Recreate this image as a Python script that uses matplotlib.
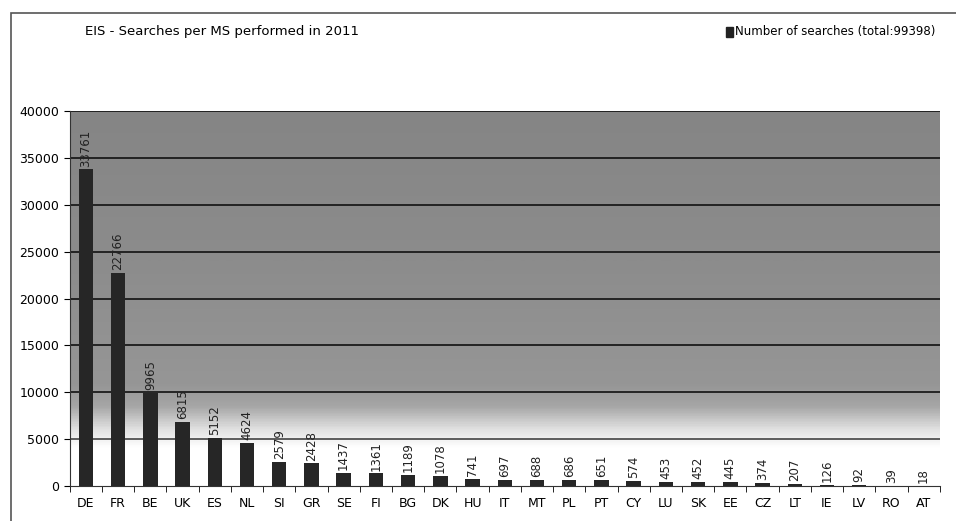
import numpy as np
import matplotlib.pyplot as plt
from matplotlib.colors import LinearSegmentedColormap
from matplotlib.patches import Rectangle

countries = ['DE', 'FR', 'BE', 'UK', 'ES', 'NL', 'SI', 'GR', 'SE', 'FI', 'BG', 'DK', 'HU',
             'IT', 'MT', 'PL', 'PT', 'CY', 'LU', 'SK', 'EE', 'CZ', 'LT', 'IE', 'LV', 'RO', 'AT']
searches = [33761, 22766, 9965, 6815, 5152, 4624, 2579, 2428, 1437, 1361, 1189, 1078, 741,
            697, 688, 686, 651, 574, 453, 452, 445, 374, 207, 126, 92, 39, 18]
yticks = [0, 5000, 10000, 15000, 20000, 25000, 30000, 35000, 40000]

plt.rcParams['font.family'] = ['DejaVu Sans']

fig = plt.figure(figsize=(9.56, 5.21), dpi=100)
ax = fig.add_axes([0.073, 0.067, 0.910, 0.720])

# outer frame of the chart
fig.patches.append(Rectangle((0.011, -0.02), 1.2, 0.995, transform=fig.transFigure,
                             fill=False, edgecolor='#555555', lw=1.2))

# background gradient (dark gray at top, white at bottom)
grad = np.linspace(0, 1, 400).reshape(-1, 1)
cmap = LinearSegmentedColormap.from_list('bg', [
    (0.0, '#ffffff'), (0.10, '#ffffff'), (0.15, '#e0e0e0'), (0.21, '#a6a6a6'),
    (0.27, '#969696'), (0.6, '#8c8c8c'), (1.0, '#858585')])
ax.imshow(grad, cmap=cmap, aspect='auto', extent=[0, 1, 0, 1],
          transform=ax.transAxes, origin='lower', zorder=0)

x = np.arange(len(countries))
ax.bar(x, searches, width=0.45, color='#262626', zorder=3)
for xi, v in zip(x, searches):
    ax.text(xi, v + 300, str(v), rotation=90, ha='center', va='bottom',
            fontsize=8.5, color='#222222', zorder=4)

for t in yticks[1:]:
    ax.axhline(t, color='#111111' if t >= 10000 else '#444444', lw=1.2, zorder=2)

ax.set_xlim(-0.5, len(countries) - 0.5)
ax.set_ylim(0, 40000)
ax.set_yticks(yticks)
ax.set_xticks(x)
ax.set_xticklabels(countries, fontsize=9)
ax.tick_params(axis='y', labelsize=9, length=4)
ax.tick_params(axis='x', length=0, pad=8)
ax.set_xticks(np.arange(len(countries) + 1) - 0.5, minor=True)
ax.tick_params(axis='x', which='minor', length=4)
for s in ['top', 'right']:
    ax.spines[s].set_visible(False)
ax.spines['left'].set_color('#333333')
ax.spines['bottom'].set_color('#333333')

fig.text(0.089, 0.94, 'EIS - Searches per MS performed in 2011', fontsize=9.5,
         ha='left', va='center')

# legend entry: right-aligned text, marker placed just left of it
leg = fig.text(0.978, 0.94, 'Number of searches (total:99398)', fontsize=8.5,
               ha='right', va='center')
fig.canvas.draw()
bb = leg.get_window_extent().transformed(fig.transFigure.inverted())
fig.patches.append(Rectangle((bb.x0 - 0.009, 0.929), 0.007, 0.020,
                             transform=fig.transFigure, color='#222222'))

fig.savefig('out.png', dpi=100)
